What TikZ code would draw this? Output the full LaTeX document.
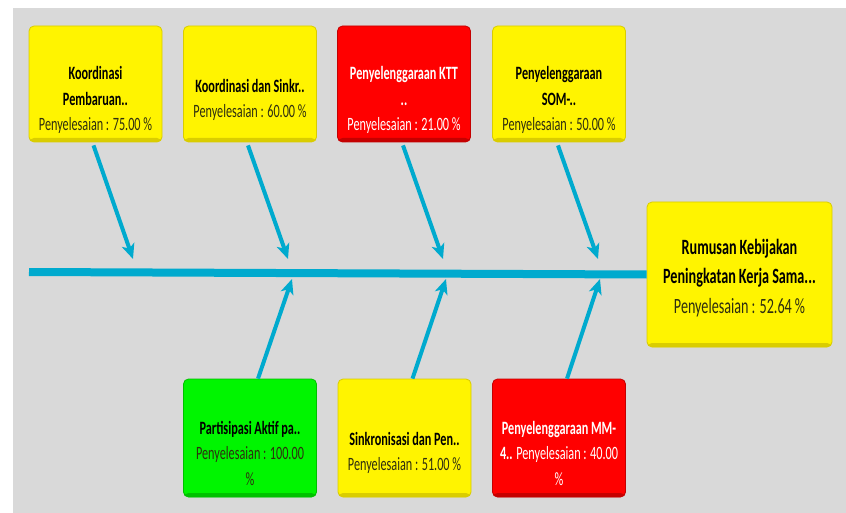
\documentclass[tikz,border=0pt]{standalone}
\usepackage{fontspec}
\setmainfont{Carlito}[FakeStretch=0.65, WordSpace=0.95]
\usetikzlibrary{arrows.meta}

\definecolor{canvasgray}{HTML}{D9D9D9}
\definecolor{bonecyan}{HTML}{00AACE}
\definecolor{cardyellow}{HTML}{FFF400}
\definecolor{cardyellowedge}{HTML}{D9CC00}
\definecolor{cardred}{HTML}{FF0000}
\definecolor{cardrededge}{HTML}{C40000}
\definecolor{cardgreen}{HTML}{00F500}
\definecolor{cardgreenedge}{HTML}{00C000}
\definecolor{softink}{HTML}{2E2E10}

\begin{document}
\begin{tikzpicture}[x=1pt,y=-1pt,
  card/.style={rounded corners=5pt, minimum width=133pt, minimum height=116pt,
    inner sep=0pt, line width=0.8pt},
  cardfill/.style={fill=#1, draw=#1edge,
    path picture={\shade[top color=#1, bottom color=#1edge]
      ([yshift=4pt]path picture bounding box.south west)
      rectangle (path picture bounding box.south east);}},
  yellowcard/.style={card, cardfill=cardyellow},
  redcard/.style={card, cardfill=cardred},
  greencard/.style={card, cardfill=cardgreen},
  cardtext/.style={align=center, inner sep=0pt,
    font=\fontsize{18.8}{25.5}\selectfont},
  darktext/.style={cardtext, text=softink},
  lighttext/.style={cardtext, text=white},
  bone/.style={draw=bonecyan, line width=4pt,
    -{Stealth[length=15pt,width=13pt,inset=4pt]}},
]
% canvas
\useasboundingbox (0,0) rectangle (846,513);
\fill[canvasgray] (13,8) rectangle (846,513);

% spine and head
\node[card, cardfill=cardyellow, minimum width=185pt, minimum height=145pt]
  (head) at (739.5,274.5) {};
\node[darktext, font=\fontsize{21.8}{29.5}\selectfont]
  (headtext) at ([yshift=-3.5pt]head.center)
  {\textcolor{black}{\textbf{Rumusan Kebijakan}}\\
   \textcolor{black}{\textbf{Peningkatan Kerja Sama...}}\\
   Penyelesaian : 52.64 \%};
\coordinate (tail) at (29,272);
\draw[bonecyan, line width=8pt] (tail) -- (head.west);

% upper cards
\node[yellowcard] (b1) at (95.5,84) {};
\node[yellowcard] (b2) at (250,84) {};
\node[redcard]    (b3) at (404,84) {};
\node[yellowcard] (b4) at (559,84) {};

\node[darktext] (t1) at ([yshift=-16pt]b1.center)
  {\textcolor{black}{\textbf{Koordinasi}}\\
   \textcolor{black}{\textbf{Pembaruan..}}\\
   Penyelesaian : 75.00 \%};
\node[darktext] (t2) at ([yshift=-16pt]b2.center)
  {\textcolor{black}{\textbf{Koordinasi dan Sinkr..}}\\
   Penyelesaian : 60.00 \%};
\node[lighttext] (t3) at ([yshift=-16pt]b3.center)
  {\textbf{Penyelenggaraan KTT}\\
   \textbf{..}\\
   Penyelesaian : 21.00 \%};
\node[darktext] (t4) at ([yshift=-16pt]b4.center)
  {\textcolor{black}{\textbf{Penyelenggaraan}}\\
   \textcolor{black}{\textbf{SOM-..}}\\
   Penyelesaian : 50.00 \%};

% lower cards
\node[greencard, minimum height=118pt]  (b5) at (250,438) {};
\node[yellowcard, minimum height=118pt] (b6) at (404.5,438) {};
\node[redcard, minimum height=118pt]    (b7) at (559,438) {};

\node[darktext] (t5) at ([yshift=-15pt]b5.center)
  {\textcolor{black}{\textbf{Partisipasi Aktif pa..}}\\
   Penyelesaian : 100.00\\
   \%};
\node[darktext] (t6) at ([yshift=-15pt]b6.center)
  {\textcolor{black}{\textbf{Sinkronisasi dan Pen..}}\\
   Penyelesaian : 51.00 \%};
\node[lighttext] (t7) at ([yshift=-15pt]b7.center)
  {\textbf{Penyelenggaraan MM-}\\
   \textbf{4..} Penyelesaian : 40.00\\
   \%};

% joints on the spine
\coordinate (j1) at (133,259);
\coordinate (j2) at (288,259);
\coordinate (j3) at (443,259);
\coordinate (j4) at (598,259);
\coordinate (j5) at (292,279);
\coordinate (j6) at (446,279);
\coordinate (j7) at (600,279);

% ribs
\draw[bone] ([xshift=-2pt,yshift=-3pt]b1.south) -- (j1);
\draw[bone] ([xshift=-2pt,yshift=-3pt]b2.south) -- (j2);
\draw[bone] ([xshift=-1pt,yshift=-3pt]b3.south) -- (j3);
\draw[bone] ([xshift=-1pt,yshift=-3pt]b4.south) -- (j4);
\draw[bone] ([xshift=8pt]b5.north) -- (j5);
\draw[bone] ([xshift=8pt]b6.north) -- (j6);
\draw[bone] ([xshift=8pt]b7.north) -- (j7);
\end{tikzpicture}
\end{document}
